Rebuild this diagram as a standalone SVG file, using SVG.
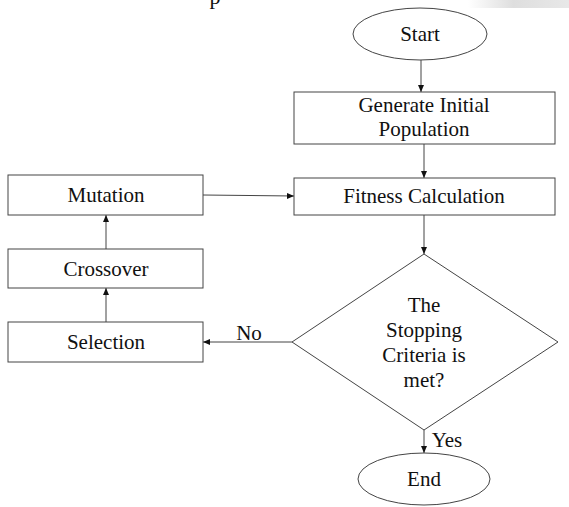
<svg xmlns="http://www.w3.org/2000/svg" width="569" height="507" viewBox="0 0 569 507">
<defs>
<marker id="ah" markerWidth="8" markerHeight="8" refX="7" refY="4" orient="auto" markerUnits="userSpaceOnUse">
<path d="M0,1 L7,4 L0,7 Z" fill="#111"/>
</marker>
<linearGradient id="g" x1="0" y1="0" x2="1" y2="0">
<stop offset="0" stop-color="#ffffff"/>
<stop offset="0.45" stop-color="#dedede"/>
<stop offset="1" stop-color="#e8e8e8"/>
</linearGradient>
</defs>
<style>
.s{fill:#fff;stroke:#444;stroke-width:1}
.t{font-family:"Liberation Serif","DejaVu Serif",serif;font-size:21px;fill:#111;text-anchor:middle}
.c{stroke:#444;stroke-width:1;fill:none}
</style>
<rect width="569" height="507" fill="#fff"/>
<rect x="468" y="0" width="101" height="8" fill="url(#g)"/>
<text x="215" y="4" class="t" style="font-size:22px">p</text>
<g id="connectors">
<line class="c" x1="421" y1="60" x2="421" y2="92" marker-end="url(#ah)"/>
<line class="c" x1="424" y1="144" x2="424" y2="178" marker-end="url(#ah)"/>
<line class="c" x1="203" y1="195" x2="294" y2="196" marker-end="url(#ah)"/>
<line class="c" x1="424" y1="215" x2="424" y2="254" marker-end="url(#ah)"/>
<line class="c" x1="106" y1="249" x2="106" y2="215" marker-end="url(#ah)"/>
<line class="c" x1="106" y1="322" x2="106" y2="288" marker-end="url(#ah)"/>
<line class="c" x1="292" y1="342" x2="203" y2="342" marker-end="url(#ah)"/>
<line class="c" x1="424" y1="430" x2="424" y2="453" marker-end="url(#ah)"/>
<text x="249" y="340" class="t">No</text>
<text x="447" y="447" class="t">Yes</text>
</g>
<g id="start">
<ellipse class="s" cx="420" cy="34" rx="67" ry="26"/>
<text x="420" y="41" class="t">Start</text>
</g>
<g id="generate">
<rect class="s" x="294" y="92" width="261" height="52"/>
<text x="424" y="112" class="t">Generate Initial</text>
<text x="424" y="136" class="t">Population</text>
</g>
<g id="fitness">
<rect class="s" x="294" y="178" width="261" height="37"/>
<text x="424" y="203" class="t">Fitness Calculation</text>
</g>
<g id="mutation">
<rect class="s" x="8" y="175" width="195" height="40"/>
<text x="106" y="202" class="t">Mutation</text>
</g>
<g id="crossover">
<rect class="s" x="8" y="249" width="195" height="39"/>
<text x="106" y="276" class="t">Crossover</text>
</g>
<g id="selection">
<rect class="s" x="8" y="322" width="195" height="40"/>
<text x="106" y="349" class="t">Selection</text>
</g>
<g id="decision">
<polygon class="s" points="424,254 558,342 424,430 292,342"/>
<text x="424" y="312" class="t">The</text>
<text x="424" y="337" class="t">Stopping</text>
<text x="424" y="362" class="t">Criteria is</text>
<text x="424" y="387" class="t">met?</text>
</g>
<g id="end">
<ellipse class="s" cx="424" cy="479" rx="66" ry="26"/>
<text x="424" y="486" class="t">End</text>
</g>
</svg>
